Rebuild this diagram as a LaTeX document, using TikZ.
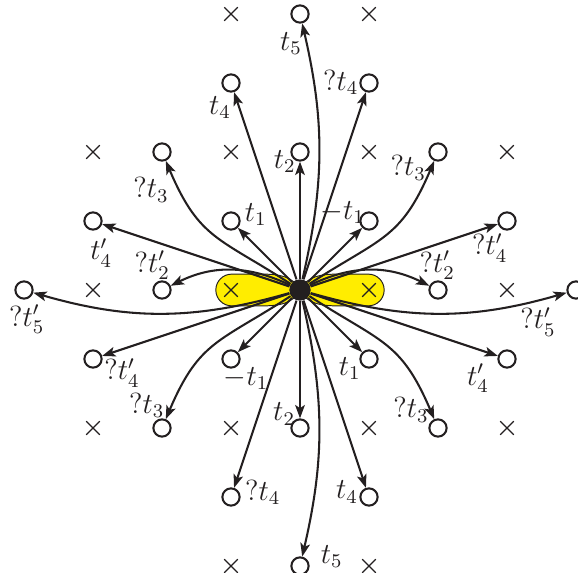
\documentclass[tikz,border=0pt]{standalone}
\usepackage{xcolor}
\usepackage{tikz}
\usetikzlibrary{shapes.misc, arrows.meta, positioning}
\definecolor{lobeyellow}{RGB}{255, 237, 0}
\definecolor{inkblack}{RGB}{35, 31, 32}

\begin{document}
\begin{tikzpicture}[
    hole/.style={circle, draw=inkblack, line width=0.85pt, fill=white,
                 minimum size=0.25cm, inner sep=0pt},
    xmark/.style={cross out, draw=inkblack, line width=0.45pt,
                  minimum size=0.18cm, inner sep=0pt},
    hub/.style={circle, fill=inkblack, minimum size=0.31cm, inner sep=0pt},
    lbl/.style={inner sep=0pt, text=inkblack, font=\large},
    arrow/.style={-{Stealth[length=5.5pt, width=4pt, inset=1.3pt]},
                  line width=0.85pt, inkblack}
]
    \useasboundingbox (-4.348,-4.101) rectangle (4.029,4.203);

    % yellow lobes
    \draw[draw=inkblack, line width=0.4pt, fill=lobeyellow]
        (0,0) .. controls (-0.1,0.2) and (-0.3,0.23) .. (-0.55,0.23)
        -- (-0.99,0.23) arc[start angle=90, end angle=270, radius=0.23]
        -- (-0.55,-0.23) .. controls (-0.3,-0.23) and (-0.1,-0.2) .. (0,0)
        .. controls (0.1,0.2) and (0.3,0.23) .. (0.55,0.23)
        -- (0.99,0.23) arc[start angle=90, end angle=-90, radius=0.23]
        -- (0.55,-0.23) .. controls (0.3,-0.23) and (0.1,-0.2) .. (0,0);

    % crosses
    \node[xmark] (x1) at (-1,4) {};
    \node[xmark] (x2) at (1,4) {};
    \node[xmark] (x3) at (-3,2) {};
    \node[xmark] (x4) at (-1,2) {};
    \node[xmark] (x5) at (1,2) {};
    \node[xmark] (x6) at (3,2) {};
    \node[xmark] (x7) at (-3,0) {};
    \node[xmark] (x8) at (-1,0) {};
    \node[xmark] (x9) at (1,0) {};
    \node[xmark] (x10) at (3,0) {};
    \node[xmark] (x11) at (-3,-2) {};
    \node[xmark] (x12) at (-1,-2) {};
    \node[xmark] (x13) at (1,-2) {};
    \node[xmark] (x14) at (3,-2) {};
    \node[xmark] (x15) at (-1,-4) {};
    \node[xmark] (x16) at (1,-4) {};

    % centre and holes
    \node[hub] (hub) at (0,0) {};
    \node[hole] (t5n) at (0,4) {};
    \node[hole] (t4nw) at (-1,3) {};
    \node[hole] (qt4ne) at (1,3) {};
    \node[hole] (qt3nw) at (-2,2) {};
    \node[hole] (t2n) at (0,2) {};
    \node[hole] (qt3ne) at (2,2) {};
    \node[hole] (t4pnw) at (-3,1) {};
    \node[hole] (t1nw) at (-1,1) {};
    \node[hole] (mt1ne) at (1,1) {};
    \node[hole] (qt4pne) at (3,1) {};
    \node[hole] (qt5pw) at (-4,0) {};
    \node[hole] (qt2pw) at (-2,0) {};
    \node[hole] (qt2pe) at (2,0) {};
    \node[hole] (qt5pe) at (4,0) {};
    \node[hole] (qt4psw) at (-3,-1) {};
    \node[hole] (mt1sw) at (-1,-1) {};
    \node[hole] (t1se) at (1,-1) {};
    \node[hole] (t4pse) at (3,-1) {};
    \node[hole] (qt3sw) at (-2,-2) {};
    \node[hole] (t2s) at (0,-2) {};
    \node[hole] (qt3se) at (2,-2) {};
    \node[hole] (qt4sw) at (-1,-3) {};
    \node[hole] (t4se) at (1,-3) {};
    \node[hole] (t5s) at (0,-4) {};

    % straight arrows
    \draw[arrow] (hub) -- (t2n);
    \draw[arrow] (hub) -- (t2s);
    \draw[arrow] (hub) -- (t4nw);
    \draw[arrow] (hub) -- (qt4ne);
    \draw[arrow] (hub) -- (qt4sw);
    \draw[arrow] (hub) -- (t4se);
    \draw[arrow] (hub) -- (t1nw);
    \draw[arrow] (hub) -- (mt1ne);
    \draw[arrow] (hub) -- (mt1sw);
    \draw[arrow] (hub) -- (t1se);
    \draw[arrow] (hub) -- (t4pnw);
    \draw[arrow] (hub) -- (qt4pne);
    \draw[arrow] (hub) -- (qt4psw);
    \draw[arrow] (hub) -- (t4pse);

    % curved arrows
    \draw[arrow] (hub) to[bend right=13] (t5n);
    \draw[arrow] (hub) to[bend left=13] (t5s);
    \draw[arrow] (hub) to[out=33, in=-113, looseness=1.25] (qt3ne);
    \draw[arrow] (hub) to[out=147, in=-67, looseness=1.25] (qt3nw);
    \draw[arrow] (hub) to[out=-147, in=67, looseness=1.25] (qt3sw);
    \draw[arrow] (hub) to[out=-33, in=113, looseness=1.25] (qt3se);
    \draw[arrow] (hub) to[bend right=26] (qt2pw);
    \draw[arrow] (hub) to[bend left=26] (qt2pe);
    \draw[arrow] (hub) to[bend left=16] (qt5pw);
    \draw[arrow] (hub) to[bend right=16] (qt5pe);

    % labels
    \node[lbl] (l-t5n) at (-0.13,3.57) {$t_5$};
    \node[lbl] (l-t4nw) at (-1.16,2.64) {$t_4$};
    \node[lbl] (l-qt4ne) at (0.59,3.01) {$?t_4$};
    \node[lbl] (l-t2n) at (-0.22,1.86) {$t_2$};
    \node[lbl] (l-qt3nw) at (-2.16,1.45) {$?t_3$};
    \node[lbl] (l-t1nw) at (-0.64,1.09) {$t_1$};
    \node[lbl] (l-mt1ne) at (0.62,1.12) {$-t_1$};
    \node[lbl] (l-qt3ne) at (1.57,1.77) {$?t_3$};
    \node[lbl] (l-t4pnw) at (-2.88,0.54) {$t'_4$};
    \node[lbl] (l-qt4pne) at (2.75,0.61) {$?t'_4$};
    \node[lbl] (l-qt2pw) at (-2.14,0.36) {$?t'_2$};
    \node[lbl] (l-qt2pe) at (1.99,0.36) {$?t'_2$};
    \node[lbl] (l-qt5pw) at (-3.96,-0.42) {$?t'_5$};
    \node[lbl] (l-qt5pe) at (3.45,-0.46) {$?t'_5$};
    \node[lbl] (l-qt4psw) at (-2.58,-1.20) {$?t'_4$};
    \node[lbl] (l-mt1sw) at (-0.78,-1.28) {$-t_1$};
    \node[lbl] (l-qt3sw) at (-2.22,-1.67) {$?t_3$};
    \node[lbl] (l-t1se) at (0.72,-1.14) {$t_1$};
    \node[lbl] (l-t4pse) at (2.58,-1.28) {$t'_4$};
    \node[lbl] (l-qt3se) at (1.61,-1.74) {$?t_3$};
    \node[lbl] (l-t2s) at (-0.23,-1.80) {$t_2$};
    \node[lbl] (l-qt4sw) at (-0.54,-2.93) {$?t_4$};
    \node[lbl] (l-t4se) at (0.68,-2.93) {$t_4$};
    \node[lbl] (l-t5s) at (0.46,-3.86) {$t_5$};
\end{tikzpicture}
\end{document}
